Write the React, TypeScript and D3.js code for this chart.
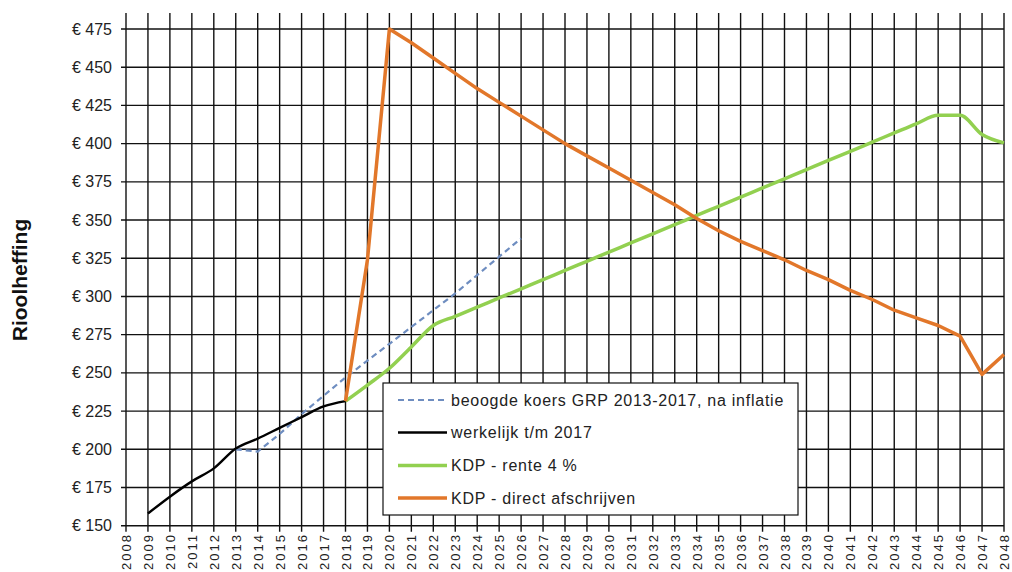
import React from "react";
import * as d3 from "d3";

const years: number[] = d3.range(2008, 2049);
const yTicks: number[] = [150, 175, 200, 225, 250, 275, 300, 325, 350, 375, 400, 425, 450, 475];

const actualYears = [2009, 2010, 2011, 2012, 2013, 2014, 2015, 2016, 2017, 2018];
const actualVals = [158, 169, 179, 187.5, 200.5, 207, 214, 221, 228, 231.5];

const targetYears = [2013, 2014, 2015, 2016, 2017, 2018, 2019, 2020, 2021, 2022, 2023, 2024, 2025, 2026];
const targetVals = [200, 198.5, 210, 223, 235, 247, 258, 269, 280, 291, 302, 314, 326, 338];

const kdpYears = [2018, 2019, 2020, 2021, 2022, 2023, 2024, 2025, 2026, 2027, 2028, 2029, 2030, 2031, 2032, 2033, 2034, 2035, 2036, 2037, 2038, 2039, 2040, 2041, 2042, 2043, 2044, 2045, 2046, 2047, 2048];
const renteVals = [231.5, 242, 253, 267, 281, 287, 293, 299, 305, 311, 317, 323, 329, 335, 341, 347, 353, 359, 365, 371, 377, 383, 389, 395, 401, 407, 413, 418.5, 418.5, 406, 400.5];
const directVals = [231.5, 324, 475, 466, 456, 446, 436, 427, 418, 409, 400, 392, 384, 376, 368, 360, 351, 343, 336, 330, 324, 317, 311, 304, 298, 291, 286, 281, 274, 249, 262];

const legendLabels = [
  "beoogde koers GRP 2013-2017, na inflatie",
  "werkelijk t/m 2017",
  "KDP - rente 4 %",
  "KDP - direct afschrijven",
];

const FONT = "'Liberation Sans', Arial, sans-serif";

export default function App() {
  const W = 1012, H = 572;
  const x = d3.scaleLinear().domain([2008, 2048]).range([126, 1004]);
  const y = d3.scaleLinear().domain([150, 475]).range([525.7, 29]);
  const plotTop = 13;

  const mk = (xs: number[], vs: number[], curve: d3.CurveFactory) =>
    d3.line<number>().x((_, i) => x(xs[i])).y((v) => y(v)).curve(curve)(vs) || "";

  const colors = {
    target: "#6E8DC0",
    actual: "#000000",
    rente: "#92D050",
    direct: "#E2772A",
  };

  const legend = [
    { label: legendLabels[0], color: colors.target, dash: "6,4", w: 2.2 },
    { label: legendLabels[1], color: colors.actual, dash: "", w: 2.4 },
    { label: legendLabels[2], color: colors.rente, dash: "", w: 3.5 },
    { label: legendLabels[3], color: colors.direct, dash: "", w: 3.5 },
  ];
  const legY = [400, 432.5, 465.5, 498];

  return (
    <svg
      width={W}
      height={H}
      style={{ position: "absolute", left: 0, top: 0, background: "#fff" }}
      fontFamily={FONT}
    >
      <rect x={0} y={0} width={W} height={H} fill="#fff" />
      {years.map((yr) => (
        <line key={"v" + yr} x1={x(yr)} x2={x(yr)} y1={plotTop} y2={y(150) + 6} stroke="#111" strokeWidth={1.4} />
      ))}
      {yTicks.map((t) => (
        <line key={"h" + t} x1={x(2008) - 5} x2={x(2048)} y1={y(t)} y2={y(t)} stroke="#111" strokeWidth={1.4} />
      ))}
      {yTicks.map((t) => (
        <text key={"yl" + t} x={112} y={y(t)} textAnchor="end" dominantBaseline="central" fontSize={16} fill="#222">
          {"€ " + t}
        </text>
      ))}
      {years.map((yr) => (
        <text
          key={"xl" + yr}
          transform={`translate(${x(yr) + 5},533) rotate(-90)`}
          textAnchor="end"
          fontSize={13}
          letterSpacing={2}
          fill="#222"
        >
          {yr}
        </text>
      ))}
      <text transform="translate(27,280) rotate(-90)" textAnchor="middle" fontSize={21} fontWeight="bold" fill="#111">
        Rioolheffing
      </text>

      <path d={mk(targetYears, targetVals, d3.curveLinear)} fill="none" stroke={colors.target} strokeWidth={2.2} strokeDasharray="6,4" />
      <path d={mk(actualYears, actualVals, d3.curveMonotoneX)} fill="none" stroke={colors.actual} strokeWidth={2.4} />
      <path d={mk(kdpYears, renteVals, d3.curveMonotoneX)} fill="none" stroke={colors.rente} strokeWidth={3.5} strokeLinejoin="round" />
      <path d={mk(kdpYears, directVals, d3.curveLinear)} fill="none" stroke={colors.direct} strokeWidth={3.5} strokeLinejoin="round" />

      <rect x={383} y={383} width={415} height={132} fill="#fff" stroke="#111" strokeWidth={1.2} />
      {legend.map((l, i) => (
        <g key={"lg" + i}>
          <line x1={398} x2={447} y1={legY[i]} y2={legY[i]} stroke={l.color} strokeWidth={l.w} strokeDasharray={l.dash || undefined} />
          <text x={451} y={legY[i]} dominantBaseline="central" fontSize={16} letterSpacing={0.75} fill="#222">
            {l.label}
          </text>
        </g>
      ))}
    </svg>
  );
}
